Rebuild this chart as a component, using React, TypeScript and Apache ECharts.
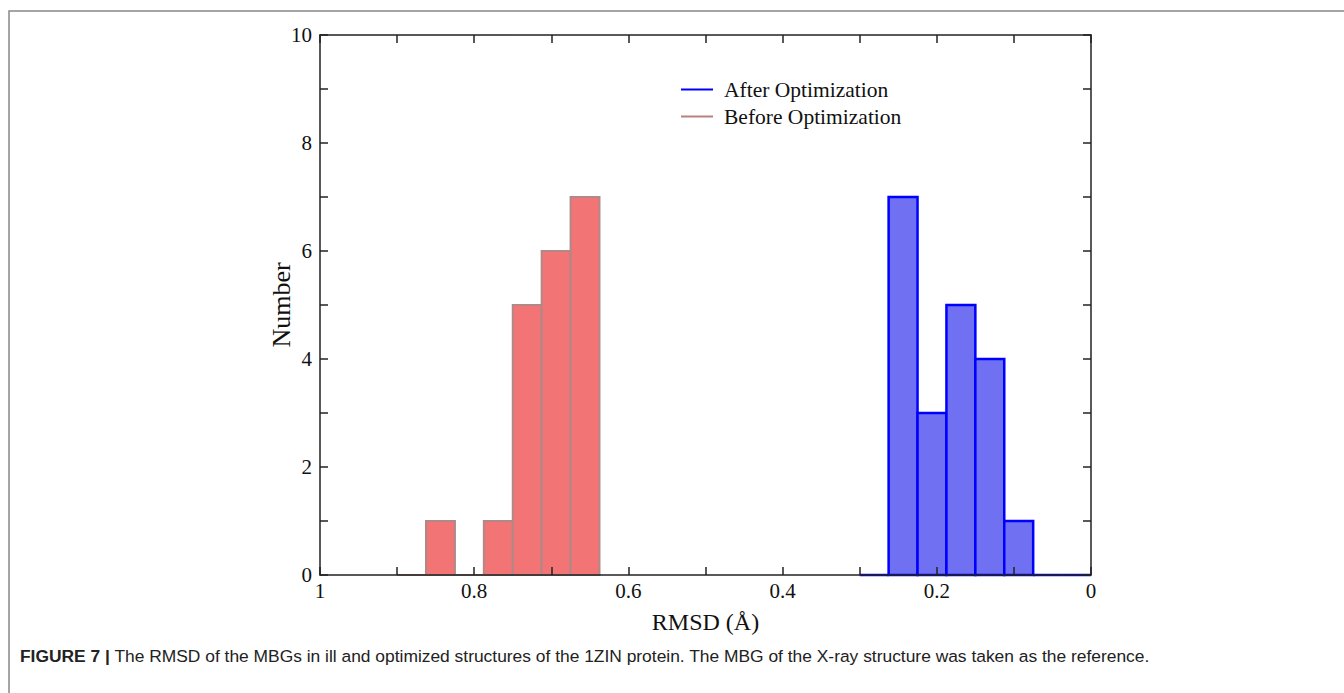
import React, { useEffect, useRef } from "react";
import * as echarts from "echarts";

// Histogram bins: left edge, right edge (RMSD, Å) and count
const beforeLeft = [0.9, 0.8625, 0.825, 0.7875, 0.75, 0.7125, 0.675];
const beforeRight = [0.8625, 0.825, 0.7875, 0.75, 0.7125, 0.675, 0.6375];
const beforeCounts = [0, 1, 0, 1, 5, 6, 7];

const afterLeft = [0.3, 0.2625, 0.225, 0.1875, 0.15, 0.1125, 0.075, 0.0375];
const afterRight = [0.2625, 0.225, 0.1875, 0.15, 0.1125, 0.075, 0.0375, 0];
const afterCounts = [0, 7, 3, 5, 4, 1, 0, 0];

const xTicks = [0, 0.2, 0.4, 0.6, 0.8, 1];
const yTicks = [0, 2, 4, 6, 8, 10];

const seriesNames = ["After Optimization", "Before Optimization"];
const caption =
  "The RMSD of the MBGs in ill and optimized structures of the 1ZIN protein. The MBG of the X-ray structure was taken as the reference.";

const SERIF = "'Liberation Serif', 'DejaVu Serif', serif";
const SANS = "'Liberation Sans', Arial, sans-serif";

function histRender(fill: string, stroke: string, lw: number) {
  return (params: any, api: any) => {
    const x0 = api.value(0);
    const x1 = api.value(1);
    const c = api.value(2);
    const p0 = api.coord([x0, 0]);
    const p1 = api.coord([x1, c]);
    if (c === 0) {
      return {
        type: "line",
        shape: { x1: p0[0], y1: p0[1], x2: p1[0], y2: p0[1] },
        style: { stroke, lineWidth: lw },
      };
    }
    const x = Math.min(p0[0], p1[0]);
    const w = Math.abs(p1[0] - p0[0]);
    return {
      type: "rect",
      shape: { x, y: p1[1], width: w, height: p0[1] - p1[1] },
      style: { fill, stroke, lineWidth: lw },
    };
  };
}

export default function App() {
  const ref = useRef<HTMLDivElement>(null);
  useEffect(() => {
    if (!ref.current) return;
    const chart = echarts.init(ref.current, undefined, { renderer: "svg" });
    const beforeData = beforeLeft.map((l, i) => [l, beforeRight[i], beforeCounts[i]]);
    const afterData = afterLeft.map((l, i) => [l, afterRight[i], afterCounts[i]]);
    const axisLine = { show: true, onZero: false, lineStyle: { color: "#222", width: 1.5 } };
    const tick = { show: true, inside: true, length: 8, lineStyle: { color: "#222", width: 1.5 } };
    chart.setOption({
      animation: false,
      backgroundColor: "#fff",
      grid: { left: 320, right: 253, top: 35, bottom: 118, containLabel: false },
      legend: {
        orient: "vertical",
        left: 676,
        top: 71,
        itemWidth: 32,
        itemHeight: 2,
        itemGap: 0,
        icon: "rect",
        textStyle: { fontFamily: SERIF, fontSize: 21.5, color: "#111", lineHeight: 27, padding: [0, 0, 0, 6] },
        data: [
          { name: seriesNames[0], itemStyle: { color: "#0000ff" } },
          { name: seriesNames[1], itemStyle: { color: "#b88080" } },
        ],
      },
      xAxis: [
        {
          type: "value",
          min: 0,
          max: 1,
          interval: 0.1,
          inverse: true,
          position: "bottom",
          z: 10,
          axisLine,
          axisTick: tick,
          splitLine: { show: false },
          axisLabel: {
            fontFamily: SERIF,
            fontSize: 21,
            color: "#111",
            margin: 5,
            formatter: (v: number) => {
              const m = xTicks.find((t) => Math.abs(t - v) < 1e-6);
              return m === undefined ? "" : String(m);
            },
          },
          name: "RMSD (Å)",
          nameLocation: "middle",
          nameGap: 35,
          nameTextStyle: { fontFamily: SERIF, fontSize: 24, color: "#111" },
        },
        {
          type: "value",
          min: 0,
          max: 1,
          interval: 0.1,
          inverse: true,
          position: "top",
          z: 10,
          axisLine,
          axisTick: tick,
          splitLine: { show: false },
          axisLabel: { show: false },
        },
      ],
      yAxis: [
        {
          type: "value",
          min: 0,
          max: 10,
          interval: 1,
          position: "left",
          z: 10,
          axisLine,
          axisTick: tick,
          splitLine: { show: false },
          axisLabel: {
            fontFamily: SERIF,
            fontSize: 21,
            color: "#111",
            margin: 8,
            formatter: (v: number) => (yTicks.includes(v) ? String(v) : ""),
          },
          name: "Number",
          nameLocation: "middle",
          nameGap: 26,
          nameMoveOverlap: false,
          nameTextStyle: { fontFamily: SERIF, fontSize: 26, color: "#111" },
        },
        {
          type: "value",
          min: 0,
          max: 10,
          interval: 1,
          position: "right",
          z: 10,
          axisLine,
          axisTick: tick,
          splitLine: { show: false },
          axisLabel: { show: false },
        },
      ],
      series: [
        {
          name: seriesNames[0],
          type: "custom",
          xAxisIndex: 0,
          yAxisIndex: 0,
          z: 2,
          itemStyle: { color: "#0000ff" },
          renderItem: histRender("#7070f2", "#0000ff", 2.5),
          encode: { x: [0, 1], y: 2 },
          data: afterData,
        },
        {
          name: seriesNames[1],
          type: "custom",
          xAxisIndex: 0,
          yAxisIndex: 0,
          z: 2,
          itemStyle: { color: "#b88080" },
          renderItem: histRender("#f37474", "#b08888", 2),
          encode: { x: [0, 1], y: 2 },
          data: beforeData,
        },
      ],
      graphic: [
        {
          type: "rect",
          shape: { x: 9, y: 11, width: 1400, height: 760 },
          style: { fill: "none", stroke: "#888", lineWidth: 1.5 },
          silent: true,
        },
        {
          type: "text",
          x: 20,
          y: 656,
          style: {
            text: "{b|FIGURE 7 |} " + caption,
            fontFamily: SANS,
            fontSize: 17.4,
            fill: "#222",
            verticalAlign: "middle",
            rich: {
              b: { fontFamily: SANS, fontSize: 17.4, fontWeight: "bold", fill: "#222" },
            },
          },
        },
      ],
    });
    return () => chart.dispose();
  }, []);
  return (
    <div
      ref={ref}
      style={{ position: "fixed", left: 0, top: 0, width: 1344, height: 693, background: "#fff" }}
    />
  );
}
